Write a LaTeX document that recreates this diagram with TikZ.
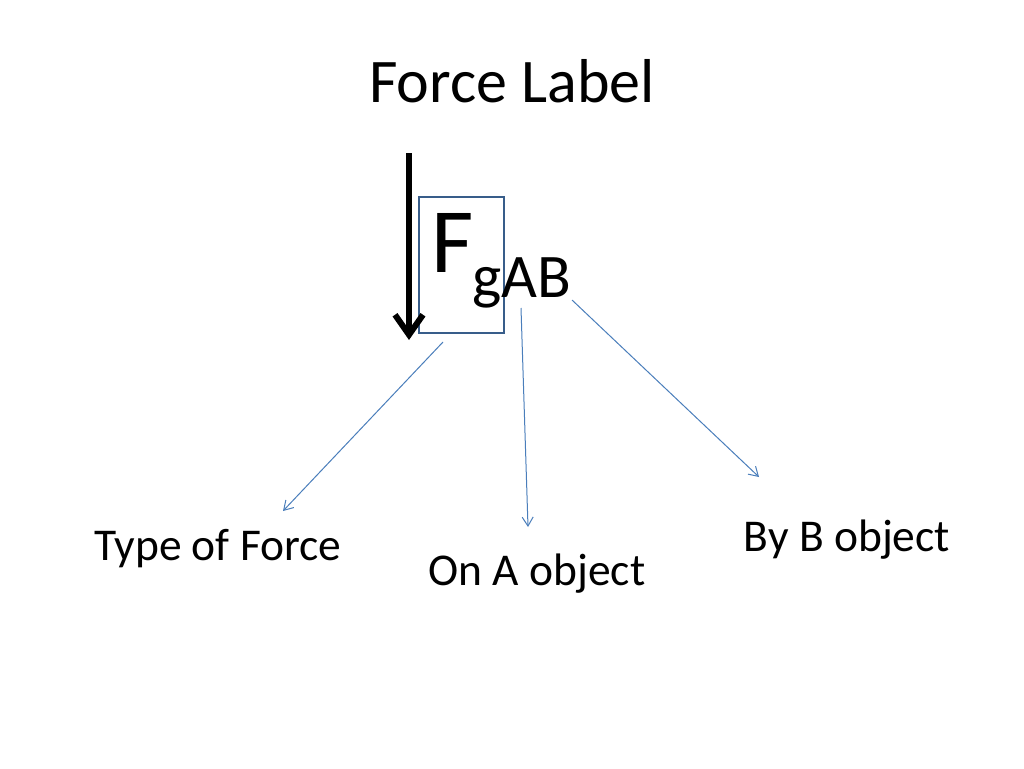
\documentclass[tikz,border=0pt]{standalone}
\usepackage{fontspec}
\setmainfont{Carlito}
\usetikzlibrary{arrows.meta}
\definecolor{boxblue}{HTML}{385D8A}
\definecolor{arrblue}{HTML}{4A7EBB}
\tikzset{
  txt/.style={inner sep=0pt, anchor=base, text=black},
  ptr/.style={draw=arrblue, line width=1pt, -{Straight Barb[length=9pt,width=11pt,line width=1pt]}},
  force/.style={draw=black, line width=6.5pt, -{Straight Barb[length=20pt,width=28pt,line width=6pt]}},
}
\begin{document}
\begin{tikzpicture}[x=1pt,y=-1pt]
\useasboundingbox (0,0) rectangle (1024,768);
\fill[white] (0,0) rectangle (1024,768);
% title
\node[txt, font=\fontsize{62}{70}\selectfont] (title) at (512,102) {Force Label};
% box
\node[draw=boxblue, line width=2.3pt, minimum width=85pt, minimum height=136pt, inner sep=0pt, anchor=north west] (box) at (418,196) {};
% F_gAB
\node[txt, anchor=base west, font=\fontsize{92}{100}\selectfont] (F) at (431,272) {F};
\node[txt, anchor=base west, font=\fontsize{62}{70}\selectfont] (sub) at (472,297) {gAB};
% force arrow
\coordinate (fs) at (409,153);
\coordinate (fe) at (409,340);
\draw[force] (fs) -- (fe);
% labels
\node[txt, font=\fontsize{45.5}{50}\selectfont] (type) at (218,560) {Type of Force};
\node[txt, font=\fontsize{45.5}{50}\selectfont] (on) at (537,585) {On A object};
\node[txt, font=\fontsize{45.5}{50}\selectfont] (by) at (847,551) {By B object};
% pointers
\coordinate (s1) at (443,342);
\coordinate (e1) at (283,511);
\coordinate (s2) at (521,308);
\coordinate (e2) at (528,527);
\coordinate (s3) at (572,300);
\coordinate (e3) at (759,477);
\draw[ptr] (s1) -- (e1);
\draw[ptr] (s2) -- (e2);
\draw[ptr] (s3) -- (e3);
\end{tikzpicture}
\end{document}
